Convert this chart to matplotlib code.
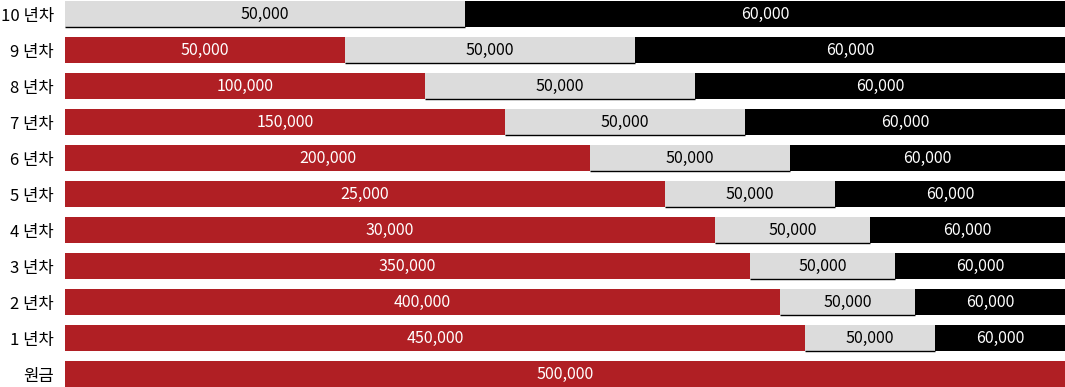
import matplotlib
matplotlib.use('Agg')
import matplotlib.pyplot as plt

plt.rcParams['font.family'] = ['Noto Sans CJK KR', 'DejaVu Sans']

# 행 이름 (위에서 아래로)
categories = ['10 년차', '9 년차', '8 년차', '7 년차', '6 년차', '5 년차',
              '4 년차', '3 년차', '2 년차', '1 년차', '원금']
# 각 구간의 폭 (전체 100 기준)
red_width = [0, 28, 36, 44, 52.5, 60, 65, 68.5, 71.5, 74, 100]
gray_width = [40, 29, 27, 24, 20, 17, 15.5, 14.5, 13.5, 13, 0]
black_width = [60, 43, 37, 32, 27.5, 23, 19.5, 17, 15, 13, 0]
# 구간에 표시되는 금액
red_labels = ['', '50,000', '100,000', '150,000', '200,000', '25,000',
              '30,000', '350,000', '400,000', '450,000', '500,000']
gray_labels = ['50,000'] * 10 + ['']
black_labels = ['60,000'] * 10 + ['']

RED = '#B01F24'
GRAY = '#DCDCDC'
BLACK = '#000000'
BAR_H = 0.72


def draw_segment(ax, y, widths, lefts, labels, color, text_color):
    ax.barh(y, widths, left=lefts, height=BAR_H, color=color, linewidth=0)
    for yi, w, l, lab in zip(y, widths, lefts, labels):
        if w > 0 and lab:
            ax.text(l + w / 2, yi, lab, ha='center', va='center',
                    color=text_color, fontsize=11.5)


def main():
    fig = plt.figure(figsize=(10.65, 3.87), dpi=100)
    ax = fig.add_axes([65 / 1065, 0, 1000 / 1065, 1])
    y = list(range(len(categories)))

    gray_left = red_width
    black_left = [r + g for r, g in zip(red_width, gray_width)]

    draw_segment(ax, y, red_width, [0] * len(y), red_labels, RED, 'white')
    draw_segment(ax, y, gray_width, gray_left, gray_labels, GRAY, 'black')
    draw_segment(ax, y, black_width, black_left, black_labels, BLACK, 'white')

    # 회색 구간 아래쪽 얇은 선
    for yi, l, w in zip(y, gray_left, gray_width):
        if w > 0:
            ax.plot([l, l + w], [yi + BAR_H / 2, yi + BAR_H / 2],
                    color='black', linewidth=1, solid_capstyle='butt')

    ax.set_xlim(0, 100)
    ax.set_ylim(10 + 13 / 36, -14 / 36)
    ax.set_yticks(y)
    ax.set_yticklabels(categories, fontsize=12, color='black')
    ax.tick_params(axis='y', length=0, pad=8)
    ax.set_xticks([])
    for s in ax.spines.values():
        s.set_visible(False)

    fig.savefig('out.png', dpi=100)


if __name__ == '__main__':
    main()
